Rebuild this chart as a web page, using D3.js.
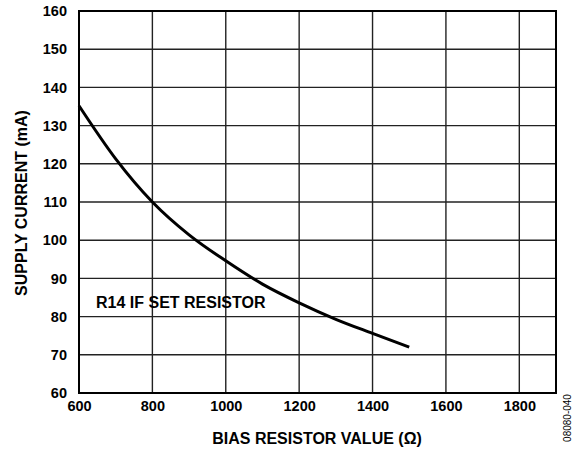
<!DOCTYPE html>
<html><head><meta charset="utf-8">
<script src="https://cdn.jsdelivr.net/npm/d3@7"></script>
<style>
body{margin:0;background:#fff;}
text{font-family:"Liberation Sans",Arial,Helvetica,sans-serif;font-weight:bold;fill:#000;}
</style></head>
<body><svg id="c" width="582" height="452"></svg>
<script>
const resistance = [600, 700, 800, 900, 1000, 1100, 1200, 1300, 1400, 1500];
const current = [135.2, 121.3, 110, 101.4, 94.6, 88.5, 83.6, 79.3, 75.6, 72];
const xTicks = [600, 800, 1000, 1200, 1400, 1600, 1800];
const yTicks = [60, 70, 80, 90, 100, 110, 120, 130, 140, 150, 160];

const svg = d3.select("#c");
const L = 79, R = 556, T = 11, B = 393;
const x = d3.scaleLinear().domain([600, 1900]).range([L, R]);
const y = d3.scaleLinear().domain([60, 160]).range([B, T]);

const g = svg.append("g");
// grid
g.selectAll(".vg").data(xTicks.slice(1)).join("line")
  .attr("x1", d => x(d)).attr("x2", d => x(d)).attr("y1", T).attr("y2", B)
  .attr("stroke", "#222").attr("stroke-width", 1.4);
g.selectAll(".hg").data(yTicks.slice(1, -1)).join("line")
  .attr("x1", L).attr("x2", R).attr("y1", d => y(d)).attr("y2", d => y(d))
  .attr("stroke", "#222").attr("stroke-width", 1.4);
// border
g.append("rect").attr("x", L).attr("y", T).attr("width", R - L).attr("height", B - T)
  .attr("fill", "none").attr("stroke", "#000").attr("stroke-width", 2);

// axes labels
const xa = svg.append("g").attr("transform", `translate(0,${B})`)
  .call(d3.axisBottom(x).tickValues(xTicks).tickSize(0).tickPadding(8).tickFormat(d3.format("d")));
xa.select(".domain").remove();
xa.selectAll("text").style("font-size", "14.5px").style("font-family", "Liberation Sans, Arial").style("font-weight", "bold");
const ya = svg.append("g").attr("transform", `translate(${L},0)`)
  .call(d3.axisLeft(y).tickValues(yTicks).tickSize(0).tickPadding(12).tickFormat(d3.format("d")));
ya.select(".domain").remove();
ya.selectAll("text").style("font-size", "14.5px").style("font-family", "Liberation Sans, Arial").style("font-weight", "bold");

// curve
const pts = resistance.map((r, i) => [r, current[i]]);
svg.append("path").datum(pts)
  .attr("d", d3.line().x(d => x(d[0])).y(d => y(d[1])).curve(d3.curveMonotoneX))
  .attr("fill", "none").attr("stroke", "#000").attr("stroke-width", 3);

svg.append("text").attr("x", 96).attr("y", 308).style("font-size", "16px").text("R14 IF SET RESISTOR");

svg.append("text").attr("x", 317).attr("y", 444).attr("text-anchor", "middle")
  .style("font-size", "16px").text("BIAS RESISTOR VALUE (Ω)");
svg.append("text").attr("transform", "translate(27,203) rotate(-90)").attr("text-anchor", "middle")
  .style("font-size", "16px").text("SUPPLY CURRENT (mA)");
svg.append("text").attr("transform", "translate(571,418) rotate(-90)").attr("text-anchor", "middle")
  .style("font-size", "10px").style("font-weight", "normal").text("08080-040");
</script></body></html>
